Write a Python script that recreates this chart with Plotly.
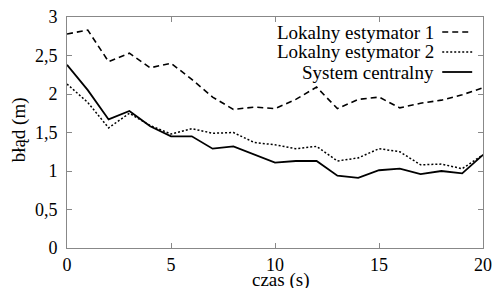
import plotly.graph_objects as go

czas = list(range(0, 21))
estymator1 = [2.78, 2.83, 2.42, 2.53, 2.34, 2.40, 2.19, 1.96, 1.80, 1.83, 1.81, 1.93, 2.09, 1.81, 1.93, 1.96, 1.82, 1.88, 1.92, 1.99, 2.08]
estymator2 = [2.13, 1.89, 1.56, 1.75, 1.59, 1.48, 1.55, 1.49, 1.50, 1.37, 1.34, 1.29, 1.32, 1.13, 1.17, 1.29, 1.25, 1.08, 1.09, 1.03, 1.21]
centralny = [2.38, 2.05, 1.67, 1.78, 1.58, 1.45, 1.45, 1.29, 1.32, 1.21, 1.11, 1.13, 1.13, 0.94, 0.91, 1.01, 1.03, 0.96, 1.00, 0.97, 1.21]
series_names = ["Lokalny estymator 1", "Lokalny estymator 2", "System centralny"]
y_ticks = [0, 0.5, 1, 1.5, 2, 2.5, 3]
x_ticks = [0, 5, 10, 15, 20]
x_title = "czas (s)"
y_title = "błąd (m)"

FONT = "Liberation Serif"
dashes = ["6px,4px", "2px,2px", "solid"]
widths = [1.6, 1.5, 1.8]

fig = go.Figure()
for name, ys, d, w in zip(series_names, [estymator1, estymator2, centralny], dashes, widths):
    fig.add_trace(go.Scatter(x=czas, y=ys, mode="lines", name=name,
                             line=dict(color="black", width=w, dash=d), showlegend=False))

# manual legend: text right-aligned, sample line on its right
for i, (name, d, w) in enumerate(zip(series_names, dashes, widths)):
    yp = 1 - (15 + 20 * i) / 231.0
    fig.add_annotation(x=0.888, y=yp, xref="paper", yref="paper", text=name, showarrow=False,
                       xanchor="right", yanchor="middle", font=dict(family=FONT, size=19, color="black"))
    fig.add_shape(type="line", xref="paper", yref="paper", x0=0.902, x1=0.974, y0=yp, y1=yp,
                  line=dict(color="black", width=w, dash=d))

# axis titles
fig.add_annotation(x=0.515, y=-0.14, xref="paper", yref="paper", text=x_title, showarrow=False,
                   xanchor="center", yanchor="middle", font=dict(family=FONT, size=19, color="black"))
fig.add_annotation(x=-0.115, y=0.51, xref="paper", yref="paper", text=y_title, showarrow=False,
                   textangle=-90, xanchor="center", yanchor="middle",
                   font=dict(family=FONT, size=19, color="black"))

axis_common = dict(showline=True, linecolor="#888888", linewidth=1, mirror="ticks",
                   ticks="inside", ticklen=5, tickcolor="#888888", showgrid=False, zeroline=False,
                   automargin=False, ticklabeloverflow="allow",
                   tickfont=dict(family=FONT, size=18, color="black"))

# page body has an 8px default margin, so the figure is sized to fit the window
fig.update_layout(
    width=493, height=280,
    margin=dict(l=59, r=18, t=9, b=40),
    plot_bgcolor="white", paper_bgcolor="white",
    separators=", ",
    font=dict(family=FONT, color="black"),
    xaxis=dict(range=[0, 20], tickvals=x_ticks, **axis_common),
    yaxis=dict(range=[0, 3], tickvals=y_ticks, **axis_common, ticklabelstandoff=5),
)

fig.write_html("out.html")
